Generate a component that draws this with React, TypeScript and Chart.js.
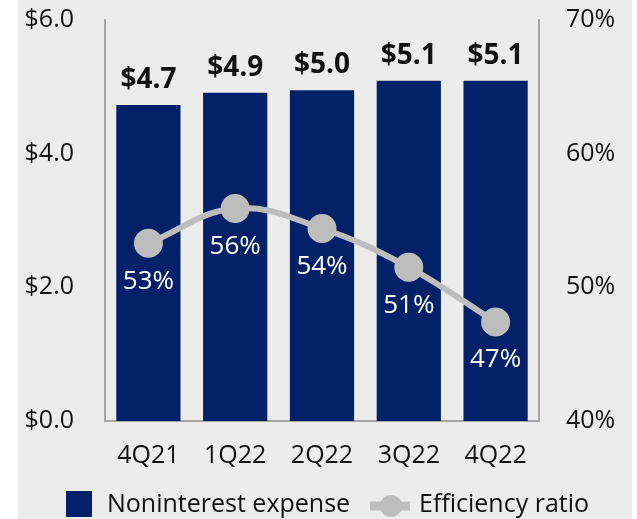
import React, { useEffect, useRef } from "react";
import { Chart, registerables } from "chart.js";

Chart.register(...registerables);

const categories = ["4Q21", "1Q22", "2Q22", "3Q22", "4Q22"];
const expenseValues = [4.73, 4.91, 4.95, 5.09, 5.09];
const expenseLabels = ["$4.7", "$4.9", "$5.0", "$5.1", "$5.1"];
const ratioValues = [53.3, 55.9, 54.4, 51.5, 47.4];
const ratioLabels = ["53%", "56%", "54%", "51%", "47%"];
const leftTicks = [0, 2, 4, 6];
const rightTicks = [40, 50, 60, 70];

const NAVY = "#022169";
const GRAY = "#bdbdbd";
const AXIS = "#a6a6a6";
const FONT = "'Open Sans', 'Noto Sans', sans-serif";

export default function App() {
  const ref = useRef<HTMLCanvasElement | null>(null);
  useEffect(() => {
    if (!ref.current) return;
    const labelPlugin = {
      id: "labels",
      afterDatasetsDraw(chart: any) {
        const ctx = chart.ctx;
        ctx.save();
        const bars = chart.getDatasetMeta(0).data;
        ctx.font = `bold 28px ${FONT}`;
        ctx.fillStyle = "#111";
        ctx.textAlign = "center";
        ctx.textBaseline = "middle";
        bars.forEach((b: any, i: number) => {
          ctx.fillText(expenseLabels[i], b.x, b.y - 25);
        });
        const pts = chart.getDatasetMeta(1).data;
        ctx.font = `26px ${FONT}`;
        ctx.fillStyle = "#ffffff";
        pts.forEach((p: any, i: number) => {
          ctx.fillText(ratioLabels[i], p.x, p.y + 38);
        });
        // legend
        const ly = 505;
        ctx.fillStyle = NAVY;
        ctx.fillRect(66, ly - 14, 26, 26);
        ctx.font = `25px ${FONT}`;
        ctx.fillStyle = "#111";
        ctx.textAlign = "left";
        ctx.fillText("Noninterest expense", 107, ly);
        ctx.strokeStyle = GRAY;
        ctx.lineWidth = 9;
        ctx.beginPath();
        ctx.moveTo(370, ly + 1);
        ctx.lineTo(410, ly + 1);
        ctx.stroke();
        ctx.fillStyle = GRAY;
        ctx.beginPath();
        ctx.arc(391, ly + 1, 11, 0, Math.PI * 2);
        ctx.fill();
        ctx.fillStyle = "#111";
        ctx.fillText("Efficiency ratio", 419, ly);
        ctx.restore();
      },
    };
    const noPad = (s: any) => {
      s.paddingTop = 0;
      s.paddingBottom = 0;
    };
    const chart = new Chart(ref.current, {
      type: "bar",
      data: {
        labels: categories,
        datasets: [
          {
            type: "bar",
            label: "Noninterest expense",
            data: expenseValues,
            backgroundColor: NAVY,
            yAxisID: "y",
            categoryPercentage: 1,
            barPercentage: 0.74,
            order: 2,
          },
          {
            type: "line",
            label: "Efficiency ratio",
            data: ratioValues,
            borderColor: GRAY,
            backgroundColor: GRAY,
            borderWidth: 6,
            pointRadius: 11.5,
            pointHoverRadius: 11.5,
            tension: 0.4,
            yAxisID: "y1",
            order: 1,
          } as any,
        ],
      },
      options: {
        animation: false,
        responsive: false,
        maintainAspectRatio: false,
        layout: { padding: { top: 20, bottom: 38, left: 0, right: 0 } },
        plugins: { legend: { display: false }, tooltip: { enabled: false } },
        scales: {
          x: {
            grid: { display: false, drawTicks: false },
            border: { color: AXIS, width: 2 },
            ticks: { color: "#111", font: { family: FONT, size: 25 }, padding: 20 },
            afterFit(s: any) {
              s.height = 60;
              s.paddingLeft = 0;
              s.paddingRight = 0;
            },
          },
          y: {
            position: "left",
            min: 0,
            max: 6,
            grid: { display: false, drawTicks: false },
            border: { color: AXIS, width: 2 },
            afterBuildTicks(s: any) {
              s.ticks = leftTicks.map((v) => ({ value: v }));
            },
            ticks: {
              color: "#111",
              font: { family: FONT, size: 25 },
              padding: 31,
              callback: (v: any) => "$" + Number(v).toFixed(1),
            },
            afterFit(s: any) {
              s.width = 105;
              noPad(s);
            },
          },
          y1: {
            position: "right",
            min: 40,
            max: 70,
            grid: { display: false, drawTicks: false },
            border: { color: AXIS, width: 2 },
            afterBuildTicks(s: any) {
              s.ticks = rightTicks.map((v) => ({ value: v }));
            },
            ticks: {
              color: "#111",
              font: { family: FONT, size: 25 },
              padding: 27,
              callback: (v: any) => v + "%",
            },
            afterFit(s: any) {
              s.width = 98;
              noPad(s);
            },
          },
        },
      },
      plugins: [labelPlugin],
    });
    return () => chart.destroy();
  }, []);
  return (
    <div style={{ position: "absolute", left: 0, top: 0, width: 637, height: 519, background: "#ffffff" }}>
      <div style={{ position: "absolute", left: 18, top: 0, width: 614, height: 519, background: "#ececec" }} />
      <canvas ref={ref} width={637} height={519} style={{ position: "absolute", left: 0, top: 0 }} />
    </div>
  );
}
